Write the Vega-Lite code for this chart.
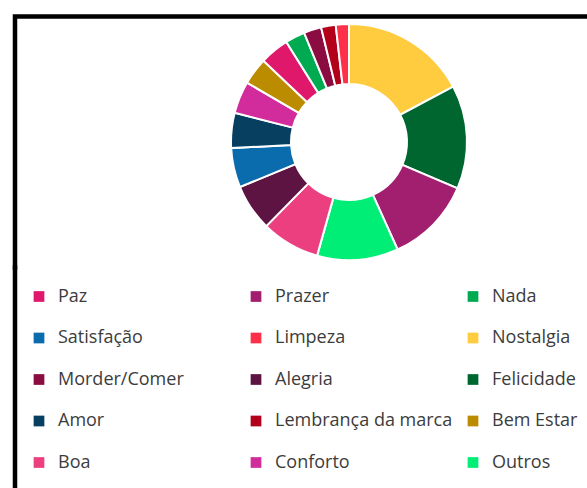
{
  "$schema": "https://vega.github.io/schema/vega-lite/v6.json",
  "padding": {"left": 11, "top": 12.5, "right": 0, "bottom": 0},
  "background": "white",
  "bounds": "flush",
  "spacing": 0,
  "data": {
    "values": [
      {"cat": "Nostalgia", "pct": 17.2, "ordem": 1},
      {"cat": "Felicidade", "pct": 14.2, "ordem": 2},
      {"cat": "Prazer", "pct": 11.8, "ordem": 3},
      {"cat": "Outros", "pct": 11.1, "ordem": 4},
      {"cat": "Boa", "pct": 8.0, "ordem": 5},
      {"cat": "Alegria", "pct": 6.4, "ordem": 6},
      {"cat": "Satisfação", "pct": 5.4, "ordem": 7},
      {"cat": "Amor", "pct": 4.8, "ordem": 8},
      {"cat": "Conforto", "pct": 4.4, "ordem": 9},
      {"cat": "Bem Estar", "pct": 3.7, "ordem": 10},
      {"cat": "Paz", "pct": 4.0, "ordem": 11},
      {"cat": "Nada", "pct": 2.7, "ordem": 12},
      {"cat": "Morder/Comer", "pct": 2.4, "ordem": 13},
      {"cat": "Lembrança da marca", "pct": 2.0, "ordem": 14},
      {"cat": "Limpeza", "pct": 1.8, "ordem": 15}
    ]
  },
  "config": {
    "font": "Open Sans",
    "view": {"stroke": "black", "strokeWidth": 4.5}
  },
  "vconcat": [
    {
      "width": 668,
      "height": 251,
      "view": {"stroke": "black", "strokeWidth": 4.5, "strokeDash": [919, 668], "strokeCap": "square"},
      "mark": {"type": "arc", "innerRadius": 58, "outerRadius": 118, "stroke": "white", "strokeWidth": 2},
      "encoding": {
        "theta": {"field": "pct", "type": "quantitative", "stack": true},
        "order": {"field": "ordem", "type": "quantitative"},
        "color": {
          "field": "cat",
          "type": "nominal",
          "scale": {
            "domain": ["Paz", "Prazer", "Nada", "Satisfação", "Limpeza", "Nostalgia", "Morder/Comer", "Alegria", "Felicidade", "Amor", "Lembrança da marca", "Bem Estar", "Boa", "Conforto", "Outros"],
            "range": ["#E0186C", "#A21F6F", "#00AA50", "#0B6CAD", "#FF3049", "#FFCC3F", "#8A0C40", "#5E1443", "#00662F", "#073F61", "#B3001B", "#BC8C00", "#EC3F80", "#D22C9C", "#00EE76"]
          },
          "legend": {
            "title": null,
            "orient": "none",
            "direction": "horizontal",
            "legendX": 15,
            "legendY": 271,
            "columns": 3,
            "gridAlign": "all",
            "columnPadding": 11,
            "rowPadding": 23.5,
            "padding": 0,
            "symbolType": "square",
            "symbolSize": 115,
            "symbolStrokeWidth": 0,
            "symbolOpacity": 1,
            "labelFont": "Open Sans",
            "labelFontSize": 18,
            "labelColor": "#3C3C3C",
            "labelOffset": 10,
            "labelLimit": 0
          }
        }
      }
    },
    {
      "width": 668,
      "height": 260,
      "data": {"values": [{}]},
      "view": {"stroke": "black", "strokeWidth": 4.5, "strokeDash": [1188, 668], "strokeDashOffset": 1188, "strokeCap": "square"},
      "mark": {"type": "text"},
      "encoding": {"text": {"value": ""}}
    }
  ]
}
